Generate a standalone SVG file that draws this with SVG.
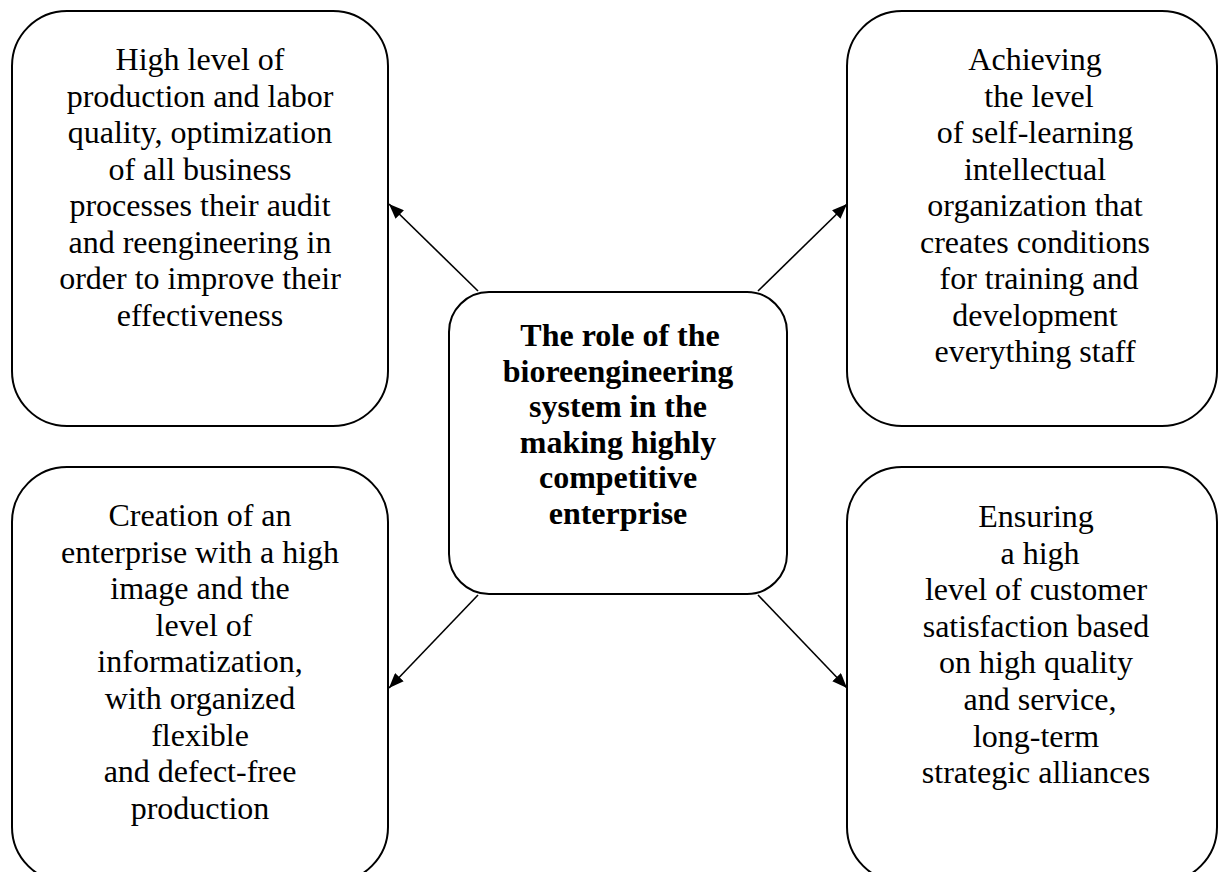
<svg xmlns="http://www.w3.org/2000/svg" width="1219" height="872" viewBox="0 0 1219 872">
<style>
.box{fill:#fff;stroke:#000;stroke-width:2}
.t{font-family:"Liberation Serif","Times New Roman",serif;font-size:32px;fill:#000;text-anchor:middle}
.b{font-weight:bold}
.c{stroke:#000;stroke-width:1.6;fill:none}
</style>
<defs>
<marker id="ah" viewBox="0 0 15 12" refX="15" refY="6" markerWidth="15" markerHeight="12" markerUnits="userSpaceOnUse" orient="auto">
<path d="M0,0 L15,6 L0,12 z" fill="#000"/>
</marker>
</defs>
<rect width="1219" height="872" fill="#fff"/>
<g id="connectors">
<line class="c" x1="478" y1="291" x2="389" y2="204" marker-end="url(#ah)"/>
<line class="c" x1="758" y1="291" x2="847" y2="204" marker-end="url(#ah)"/>
<line class="c" x1="478" y1="595" x2="389" y2="688" marker-end="url(#ah)"/>
<line class="c" x1="758" y1="595" x2="847" y2="688" marker-end="url(#ah)"/>
</g>
<g id="node-top-left">
<rect class="box" x="12" y="11" width="376" height="415" rx="55" ry="55"/>
<text class="t"><tspan x="200" y="70">High level of</tspan><tspan x="200" y="106.5">production and labor</tspan><tspan x="200" y="143">quality, optimization</tspan><tspan x="200" y="179.5">of all business</tspan><tspan x="200" y="216">processes their audit</tspan><tspan x="200" y="252.5">and reengineering in</tspan><tspan x="200" y="289">order to improve their</tspan><tspan x="200" y="325.5">effectiveness</tspan></text>
</g>
<g id="node-top-right">
<rect class="box" x="847" y="11" width="370" height="415" rx="55" ry="55"/>
<text class="t"><tspan x="1035" y="70">Achieving</tspan><tspan x="1039" y="106.5">the level</tspan><tspan x="1035" y="143">of self-learning</tspan><tspan x="1035" y="179.5">intellectual</tspan><tspan x="1035" y="216">organization that</tspan><tspan x="1035" y="252.5">creates conditions</tspan><tspan x="1039" y="289">for training and</tspan><tspan x="1035" y="325.5">development</tspan><tspan x="1035" y="362">everything staff</tspan></text>
</g>
<g id="node-center">
<rect class="box" x="449" y="292" width="338" height="302" rx="40" ry="40"/>
<text class="t b"><tspan x="620" y="346">The role of the</tspan><tspan x="618" y="381.5">bioreengineering</tspan><tspan x="618" y="417">system in the</tspan><tspan x="618" y="452.5">making highly</tspan><tspan x="618" y="488">competitive</tspan><tspan x="618" y="523.5">enterprise</tspan></text>
</g>
<g id="node-bottom-left">
<rect class="box" x="12" y="467" width="376" height="415" rx="55" ry="55"/>
<text class="t"><tspan x="200" y="526">Creation of an</tspan><tspan x="200" y="562.6">enterprise with a high</tspan><tspan x="200" y="599.2">image and the</tspan><tspan x="204" y="635.8">level of</tspan><tspan x="200" y="672.4">informatization,</tspan><tspan x="200" y="709">with organized</tspan><tspan x="200" y="745.6">flexible</tspan><tspan x="200" y="782.2">and defect-free</tspan><tspan x="200" y="818.8">production</tspan></text>
</g>
<g id="node-bottom-right">
<rect class="box" x="847" y="467" width="370" height="415" rx="55" ry="55"/>
<text class="t"><tspan x="1036" y="527">Ensuring</tspan><tspan x="1040" y="563.6">a high</tspan><tspan x="1036" y="600.2">level of customer</tspan><tspan x="1036" y="636.8">satisfaction based</tspan><tspan x="1036" y="673.4">on high quality</tspan><tspan x="1040" y="710">and service,</tspan><tspan x="1036" y="746.6">long-term</tspan><tspan x="1036" y="783.2">strategic alliances</tspan></text>
</g>
</svg>
